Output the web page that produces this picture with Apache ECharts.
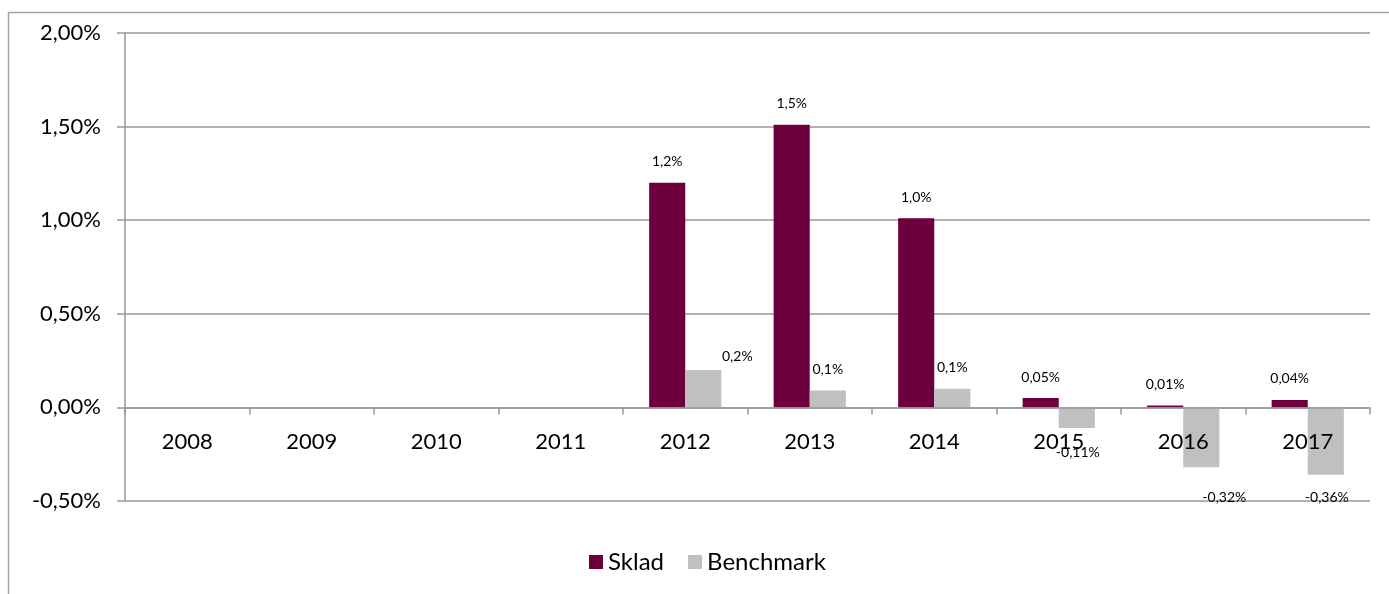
<!DOCTYPE html>
<html>
<head>
<meta charset="utf-8">
<script src="https://cdn.jsdelivr.net/npm/echarts@6/dist/echarts.min.js"></script>
<style>
  html, body { margin: 0; padding: 0; background: #fff; }
  #chart { width: 1389px; height: 594px; }
</style>
</head>
<body>
<div id="chart"></div>
<script>
const years = ["2008", "2009", "2010", "2011", "2012", "2013", "2014", "2015", "2016", "2017"];
const sklad = [null, null, null, null, 1.2, 1.51, 1.01, 0.05, 0.01, 0.04];
const benchmark = [null, null, null, null, 0.2, 0.09, 0.1, -0.11, -0.32, -0.36];
const skladLabels = ["", "", "", "", "1,2%", "1,5%", "1,0%", "0,05%", "0,01%", "0,04%"];
const benchLabels = ["", "", "", "", "0,2%", "0,1%", "0,1%", "-0,11%", "-0,32%", "-0,36%"];

const FONT = "Lato";
const GRID = "#999999";

// 手动调过位置的标签（跟原图一致）
const benchOffsets = { 4: [34, 8], 7: [1, 3], 8: [23, 9], 9: [1, 2] };

const chart = echarts.init(document.getElementById("chart"));

const option = {
  animation: false,
  textStyle: { fontFamily: FONT },
  graphic: [
    {
      type: "polyline",
      shape: { points: [[8.5, 594], [8.5, 12.5], [1389, 12.5]] },
      style: { stroke: "#a6a6a6", lineWidth: 1.5, fill: null }
    }
  ],
  grid: { left: 125, right: 19, top: 33, bottom: 93 },
  legend: {
    bottom: 15,
    left: 584,
    itemWidth: 14,
    itemHeight: 14,
    itemGap: 24,
    icon: "rect",
    textStyle: { fontSize: 24, color: "#000", fontFamily: FONT },
    data: ["Sklad", "Benchmark"]
  },
  xAxis: {
    type: "category",
    data: years,
    z: 5,
    axisLine: { onZero: true, lineStyle: { color: GRID, width: 1.5 } },
    axisTick: { show: true, length: 7, lineStyle: { color: GRID, width: 1.5 } },
    // 标签放在零线下面，压在柱子上面
    axisLabel: { fontSize: 22, color: "#000", margin: -70, fontFamily: FONT },
    splitLine: { show: false }
  },
  yAxis: {
    type: "value",
    min: -0.5,
    max: 2,
    interval: 0.5,
    axisLine: { show: true, lineStyle: { color: GRID, width: 1.5 } },
    axisTick: { show: true, length: 8, lineStyle: { color: GRID, width: 1.5 } },
    axisLabel: {
      fontSize: 22,
      color: "#000",
      margin: 24,
      fontFamily: FONT,
      formatter: (v) => v.toFixed(2).replace(".", ",") + "%"
    },
    splitLine: { show: true, lineStyle: { color: GRID, width: 1.5 } }
  },
  series: [
    {
      name: "Sklad",
      type: "bar",
      barGap: "0%",
      barCategoryGap: "42%",
      itemStyle: { color: "#6d003c" },
      label: {
        show: true,
        position: "top",
        distance: 14,
        fontSize: 14,
        color: "#000",
        fontFamily: FONT,
        formatter: (p) => skladLabels[p.dataIndex]
      },
      data: sklad
    },
    {
      name: "Benchmark",
      type: "bar",
      itemStyle: { color: "#c0c0c0" },
      label: {
        show: true,
        position: "top",
        distance: 14,
        fontSize: 14,
        color: "#000",
        fontFamily: FONT,
        formatter: (p) => benchLabels[p.dataIndex]
      },
      data: benchmark.map((v, i) => {
        if (v === null) return v;
        const item = { value: v };
        if (v < 0) item.label = { position: "bottom" };
        if (benchOffsets[i]) item.label = Object.assign(item.label || {}, { offset: benchOffsets[i] });
        return item;
      })
    }
  ]
};

chart.setOption(option);
</script>
</body>
</html>
